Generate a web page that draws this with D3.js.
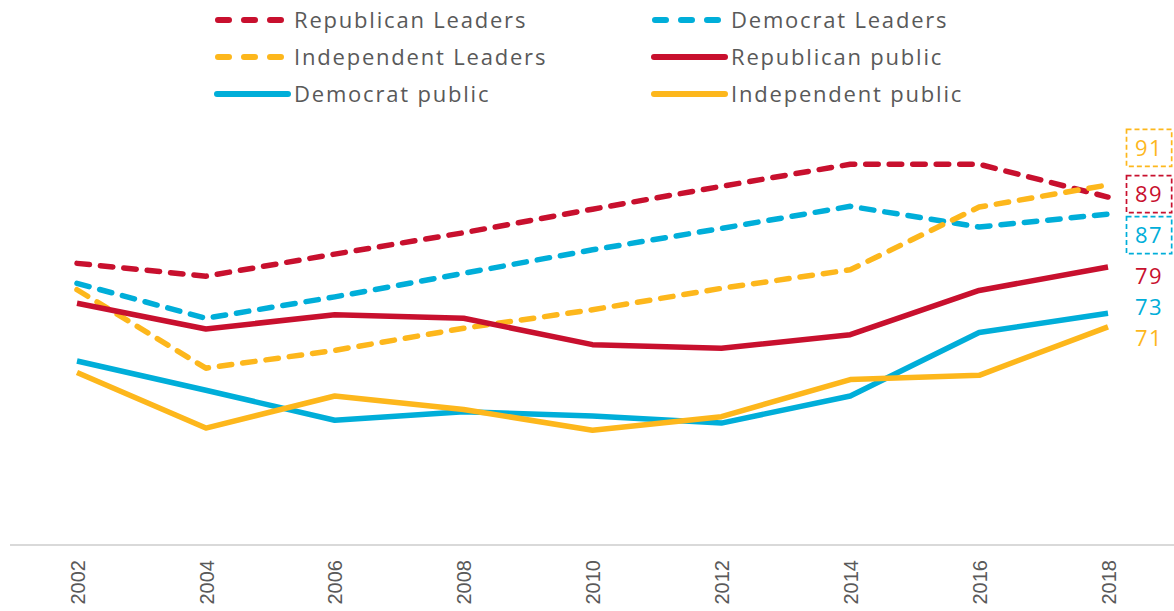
<!DOCTYPE html>
<html><head><meta charset="utf-8">
<script src="https://cdn.jsdelivr.net/npm/d3@7"></script>
<style>
body{margin:0;background:#fff;}
svg{display:block;}
text{font-family:"Open Sans","Liberation Sans",Arial,sans-serif;}
</style></head>
<body>
<svg id="chart" width="1174" height="611"></svg>
<script>
const years = [2002, 2004, 2006, 2008, 2010, 2012, 2014, 2016, 2018];
const seriesNames = ["Republican Leaders", "Democrat Leaders", "Independent Leaders", "Republican public", "Democrat public", "Independent public"];
const repLeaders = [79.5, 77.7, 80.8, 83.8, 87.1, 90.3, 93.4, 93.4, 88.8];
const demLeaders = [76.7, 71.8, 74.8, 78.1, 81.4, 84.4, 87.5, 84.6, 86.4];
const indLeaders = [75.8, 64.8, 67.3, 70.4, 73.0, 76.0, 78.6, 87.4, 90.5];
const repPublic  = [73.9, 70.3, 72.3, 71.8, 68.1, 67.6, 69.5, 75.7, 79.0];
const demPublic  = [65.8, 61.7, 57.5, 58.7, 58.1, 57.1, 60.9, 69.8, 72.5];
const indPublic  = [64.2, 56.4, 60.9, 59.0, 56.1, 58.0, 63.2, 63.8, 70.6];
const endLabels  = ["89", "87", "91", "79", "73", "71"];

const RED = "#C8102E", BLUE = "#00AED9", GOLD = "#FDB71C";
const series = [
  {name: seriesNames[0], values: repLeaders, color: RED,  dashed: true,  label: endLabels[0], box: true,  dy: -3},
  {name: seriesNames[1], values: demLeaders, color: BLUE, dashed: true,  label: endLabels[1], box: true,  dy: 21},
  {name: seriesNames[2], values: indLeaders, color: GOLD, dashed: true,  label: endLabels[2], box: true,  dy: -37},
  {name: seriesNames[3], values: repPublic,  color: RED,  dashed: false, label: endLabels[3], box: false, dy: 9},
  {name: seriesNames[4], values: demPublic,  color: BLUE, dashed: false, label: endLabels[4], box: false, dy: -6},
  {name: seriesNames[5], values: indPublic,  color: GOLD, dashed: false, label: endLabels[5], box: false, dy: 11}
];

const svg = d3.select("#chart");
const x = d3.scalePoint().domain(years).range([77, 1108]);
const y = d3.scaleLinear().domain([40, 100]).range([545, 117.2]);

// axis line + labels
const xAxis = d3.axisBottom(x).tickSize(0).tickPadding(0);
const gx = svg.append("g").attr("transform", "translate(0,545)").call(xAxis);
gx.select(".domain").remove();
gx.append("line").attr("x1", 10).attr("x2", 1174).attr("y1", 0).attr("y2", 0)
  .attr("stroke", "#d9d9d9").attr("stroke-width", 2);
gx.selectAll(".tick text")
  .attr("transform", "rotate(-90)")
  .attr("x", -15).attr("y", 0).attr("dy", "0.36em")
  .attr("text-anchor", "end")
  .attr("fill", "#595959")
  .style("font-family", "'Liberation Sans', Arial, sans-serif")
  .style("font-size", "20px");

// lines
const line = d3.line().x((d, i) => x(years[i])).y(d => y(d));
svg.append("g").selectAll("path").data(series).join("path")
  .attr("d", d => line(d.values))
  .attr("fill", "none")
  .attr("stroke", d => d.color)
  .attr("stroke-width", 5.5)
  .attr("stroke-linecap", d => d.dashed ? "round" : "butt")
  .attr("stroke-linejoin", "round")
  .attr("stroke-dasharray", d => d.dashed ? "12.5,11" : null);

// end labels
const lg = svg.append("g");
series.forEach(s => {
  const ly = y(s.values[s.values.length - 1]) + s.dy;
  const t = lg.append("text")
    .attr("x", 1135).attr("y", ly).attr("dy", "0.36em")
    .attr("fill", s.color)
    .style("font-size", "22px")
    .style("letter-spacing", "1.5px")
    .text(s.label);
  if (s.box) {
    const bb = t.node().getBBox();
    lg.append("rect")
      .attr("x", 1126.5).attr("y", ly - 18.5)
      .attr("width", bb.width + 17).attr("height", 37)
      .attr("fill", "none").attr("stroke", s.color)
      .attr("stroke-width", 1.7).attr("stroke-dasharray", "5,3");
  }
});

// legend
const legendPos = [[215, 20], [652, 20], [215, 57], [652, 57], [215, 94], [652, 94]];
const leg = svg.append("g");
series.forEach((s, i) => {
  const [lx, ly] = legendPos[i];
  const g = leg.append("g").attr("transform", `translate(${lx},${ly})`);
  if (s.dashed) {
    g.append("line").attr("x1", 3).attr("x2", 66).attr("y1", 0).attr("y2", 0)
      .attr("stroke", s.color).attr("stroke-width", 6)
      .attr("stroke-linecap", "round").attr("stroke-dasharray", "11,15");
  } else {
    g.append("line").attr("x1", 2).attr("x2", 73).attr("y1", 0).attr("y2", 0)
      .attr("stroke", s.color).attr("stroke-width", 6).attr("stroke-linecap", "round");
  }
  g.append("text").attr("x", 79).attr("y", 0).attr("dy", "0.36em")
    .attr("fill", "#595959").style("font-size", "22px")
    .style("letter-spacing", "1.8px").text(s.name);
});
</script>
</body></html>
